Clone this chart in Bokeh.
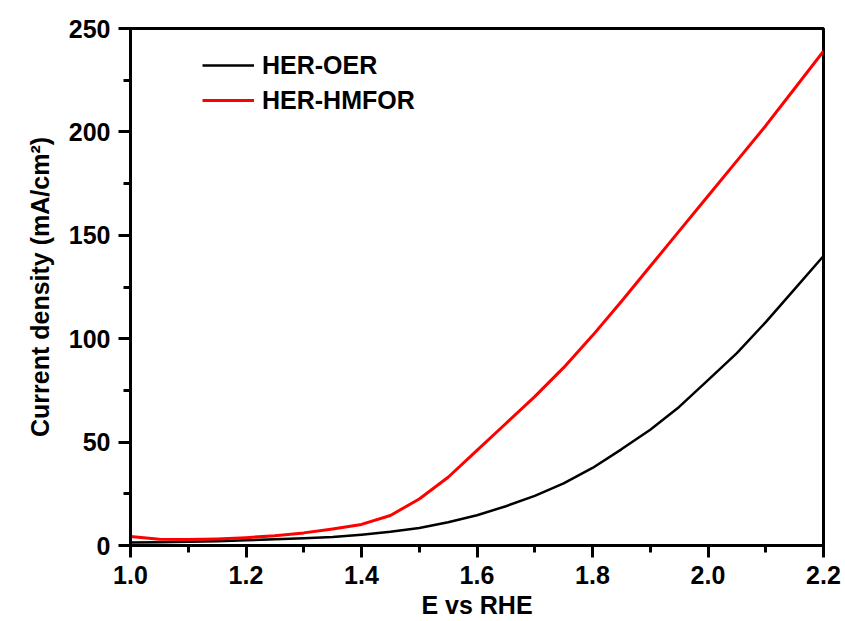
from bokeh.plotting import figure
from bokeh.models import FixedTicker, Legend, LegendItem, Range1d
from bokeh.embed import file_html
from bokeh.resources import INLINE

# Potential (V vs RHE)
potential = [1.00, 1.05, 1.10, 1.15, 1.20, 1.25, 1.30, 1.35, 1.40, 1.45, 1.50, 1.55,
             1.60, 1.65, 1.70, 1.75, 1.80, 1.85, 1.90, 1.95, 2.00, 2.05, 2.10, 2.15, 2.20]
# Current density (mA/cm2)
her_oer = [1.5, 1.6, 1.8, 2.1, 2.5, 3.0, 3.5, 4.1, 5.2, 6.6, 8.5, 11.2,
           14.6, 19.0, 24.0, 30.0, 37.5, 46.5, 56.0, 67.0, 80.0, 93.0, 108.0, 124.0, 140.0]
her_hmfor = [4.3, 3.0, 2.9, 3.2, 3.8, 4.7, 6.1, 8.0, 10.2, 14.5, 22.5, 33.0,
             46.0, 59.0, 72.0, 86.0, 101.5, 118.0, 135.0, 152.0, 169.0, 186.0, 203.0, 221.0, 239.0]
series_names = ["HER-OER", "HER-HMFOR"]
x_ticks = [1.0, 1.2, 1.4, 1.6, 1.8, 2.0, 2.2]
x_minor = [1.1, 1.3, 1.5, 1.7, 1.9, 2.1]
y_ticks = [0, 50, 100, 150, 200, 250]
y_minor = [25, 75, 125, 175, 225]

FONT = "Liberation Sans"

p = figure(width=845, height=621, output_backend="svg", toolbar_location=None,
           x_range=Range1d(1.0, 2.2), y_range=Range1d(0, 250),
           min_border_left=130, min_border_right=22, min_border_top=28, min_border_bottom=76)
p.background_fill_color = "white"
p.border_fill_color = "white"
p.grid.visible = False
p.outline_line_color = "black"
p.outline_line_width = 3

r1 = p.line(potential, her_oer, line_color="black", line_width=2.5, line_join="round")
r2 = p.line(potential, her_hmfor, line_color="#ff0000", line_width=3, line_join="round")

p.xaxis.ticker = FixedTicker(ticks=x_ticks, minor_ticks=x_minor)
p.yaxis.ticker = FixedTicker(ticks=y_ticks, minor_ticks=y_minor)
p.xaxis.major_label_overrides = {1.0: "1.0", 2.0: "2.0"}
p.xaxis.axis_label = "E vs RHE"
p.yaxis.axis_label = "Current density (mA/cm\u00b2)"

for ax in (p.xaxis[0], p.yaxis[0]):
    ax.axis_line_width = 3
    ax.axis_line_color = "black"
    ax.major_tick_line_width = 3
    ax.minor_tick_line_width = 3
    ax.major_tick_out = 12
    ax.major_tick_in = 0
    ax.minor_tick_out = 7
    ax.minor_tick_in = 0
    ax.major_label_text_font = FONT
    ax.major_label_text_font_style = "bold"
    ax.major_label_text_font_size = "25px"
    ax.major_label_text_color = "black"
    ax.axis_label_text_font = FONT
    ax.axis_label_text_font_style = "bold"
    ax.axis_label_text_font_size = "25px"
    ax.axis_label_text_color = "black"
    ax.major_label_standoff = 8
p.xaxis.axis_label_standoff = 4
p.yaxis.axis_label_standoff = 12

legend = Legend(items=[LegendItem(label=series_names[0], renderers=[r1]),
                       LegendItem(label=series_names[1], renderers=[r2])],
                location=(72, 430))
legend.border_line_color = None
legend.background_fill_alpha = 0
legend.label_text_font = FONT
legend.label_text_font_style = "bold"
legend.label_text_font_size = "25px"
legend.label_text_color = "black"
legend.glyph_width = 52
legend.glyph_height = 30
legend.label_height = 30
legend.label_standoff = 8
legend.spacing = 5
legend.padding = 0
legend.margin = 0
p.add_layout(legend)

open("out.html", "w").write(file_html(p, INLINE))
